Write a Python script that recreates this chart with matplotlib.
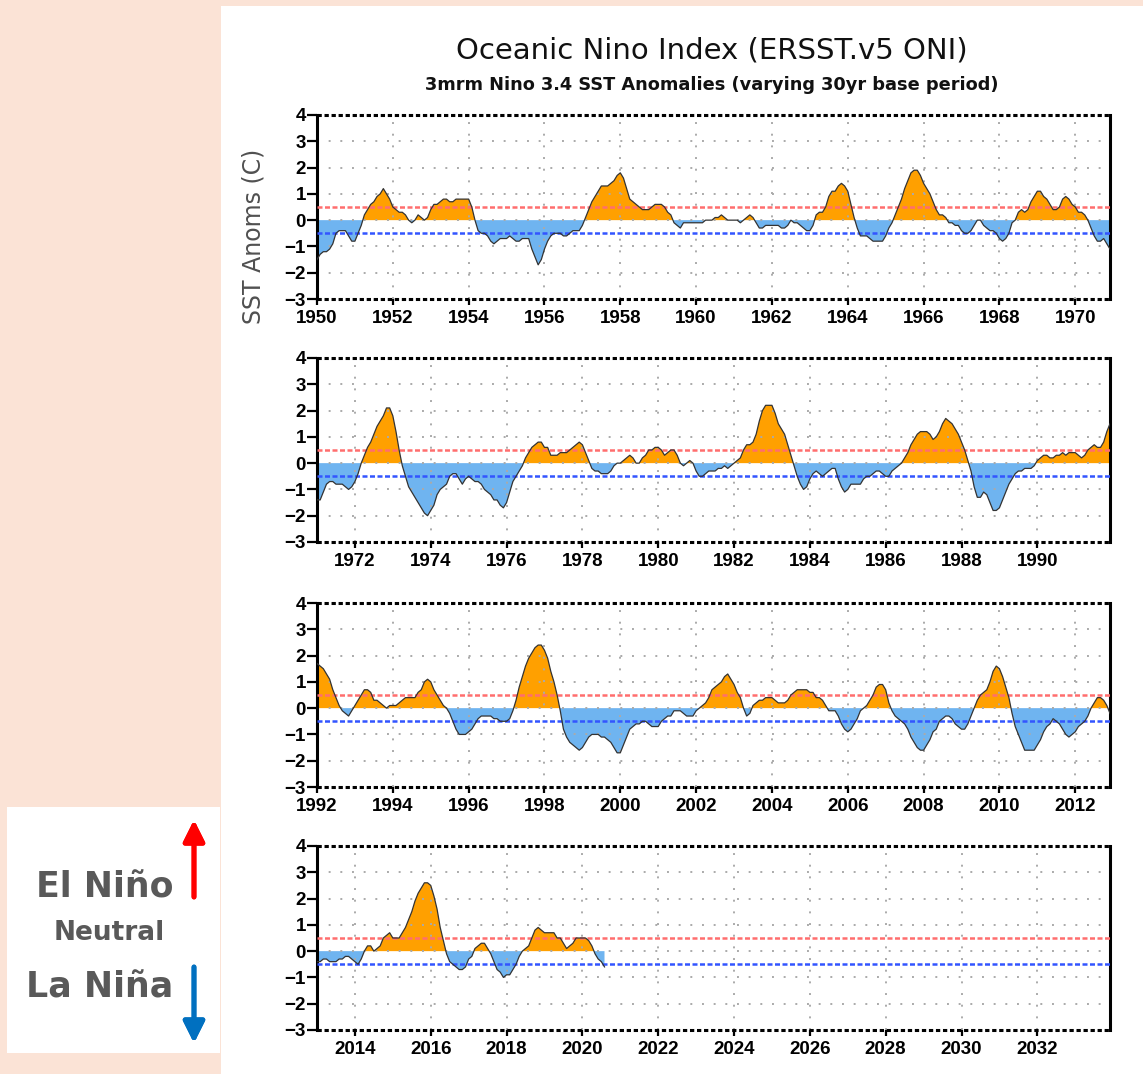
"""Oceanic Nino Index (ERSST.v5 ONI) panel chart, four 21-year strips."""
import numpy as np
import matplotlib
matplotlib.use("Agg")
import matplotlib.pyplot as plt
from matplotlib.patches import Rectangle

# 3-month running mean Nino 3.4 anomalies, monthly from DJF of the first year
oni_1950_1970 = [
    -1.5, -1.3, -1.2, -1.2, -1.1, -0.9, -0.5, -0.4, -0.4, -0.4, -0.6, -0.8,
    -0.8, -0.5, -0.2, 0.2, 0.4, 0.6, 0.7, 0.9, 1.0, 1.2, 1.0, 0.8,
    0.5, 0.4, 0.3, 0.3, 0.2, 0.0, -0.1, 0.0, 0.2, 0.1, 0.0, 0.1,
    0.4, 0.6, 0.6, 0.7, 0.8, 0.8, 0.7, 0.7, 0.8, 0.8, 0.8, 0.8,
    0.8, 0.5, 0.0, -0.4, -0.5, -0.5, -0.6, -0.8, -0.9, -0.8, -0.7, -0.7,
    -0.7, -0.6, -0.7, -0.8, -0.8, -0.7, -0.7, -0.7, -1.1, -1.4, -1.7, -1.5,
    -1.1, -0.8, -0.6, -0.5, -0.5, -0.5, -0.6, -0.6, -0.5, -0.4, -0.4, -0.4,
    -0.2, 0.1, 0.4, 0.7, 0.9, 1.1, 1.3, 1.3, 1.3, 1.4, 1.5, 1.7,
    1.8, 1.6, 1.2, 0.8, 0.7, 0.6, 0.5, 0.4, 0.4, 0.4, 0.5, 0.6,
    0.6, 0.6, 0.5, 0.3, 0.2, -0.1, -0.2, -0.3, -0.1, -0.1, -0.1, -0.1,
    -0.1, -0.1, -0.1, 0.0, 0.0, 0.0, 0.1, 0.1, 0.2, 0.1, 0.0, 0.0,
    0.0, 0.0, -0.1, 0.0, 0.1, 0.2, 0.1, -0.1, -0.3, -0.3, -0.2, -0.2,
    -0.2, -0.2, -0.2, -0.3, -0.3, -0.2, 0.0, -0.1, -0.1, -0.2, -0.3, -0.4,
    -0.4, -0.2, 0.2, 0.3, 0.3, 0.5, 0.9, 1.1, 1.1, 1.3, 1.4, 1.3,
    1.1, 0.6, 0.1, -0.3, -0.6, -0.6, -0.6, -0.7, -0.8, -0.8, -0.8, -0.8,
    -0.6, -0.3, -0.1, 0.2, 0.5, 0.8, 1.2, 1.5, 1.8, 1.9, 1.9, 1.7,
    1.4, 1.2, 1.0, 0.7, 0.4, 0.2, 0.2, 0.1, -0.1, -0.1, -0.2, -0.2,
    -0.4, -0.5, -0.5, -0.4, -0.2, 0.0, 0.0, -0.2, -0.3, -0.4, -0.4, -0.5,
    -0.7, -0.8, -0.7, -0.5, -0.1, 0.0, 0.3, 0.4, 0.3, 0.4, 0.7, 0.9,
    1.1, 1.1, 0.9, 0.8, 0.6, 0.4, 0.4, 0.5, 0.8, 0.9, 0.8, 0.6,
    0.5, 0.3, 0.3, 0.2, 0.0, -0.3, -0.6, -0.8, -0.8, -0.7, -0.9, -1.1,
]
oni_1971_1991 = [
    -1.4, -1.4, -1.1, -0.8, -0.7, -0.7, -0.8, -0.8, -0.8, -0.9, -1.0, -0.9,
    -0.7, -0.4, 0.0, 0.3, 0.6, 0.8, 1.1, 1.4, 1.6, 1.8, 2.1, 2.1,
    1.8, 1.2, 0.5, -0.1, -0.5, -0.9, -1.1, -1.3, -1.5, -1.7, -1.9, -2.0,
    -1.8, -1.6, -1.2, -1.0, -0.9, -0.8, -0.5, -0.4, -0.4, -0.6, -0.8, -0.6,
    -0.5, -0.6, -0.7, -0.7, -0.8, -1.0, -1.1, -1.2, -1.4, -1.4, -1.6, -1.7,
    -1.5, -1.1, -0.7, -0.5, -0.3, -0.1, 0.2, 0.4, 0.6, 0.7, 0.8, 0.8,
    0.6, 0.6, 0.3, 0.3, 0.3, 0.4, 0.4, 0.4, 0.5, 0.6, 0.7, 0.8,
    0.7, 0.4, 0.1, -0.2, -0.3, -0.3, -0.4, -0.4, -0.4, -0.3, -0.1, 0.0,
    0.0, 0.1, 0.2, 0.3, 0.2, 0.0, 0.0, 0.2, 0.3, 0.5, 0.5, 0.6,
    0.6, 0.5, 0.3, 0.4, 0.5, 0.5, 0.3, 0.0, -0.1, 0.0, 0.1, 0.0,
    -0.3, -0.5, -0.5, -0.4, -0.3, -0.3, -0.3, -0.2, -0.2, -0.1, -0.2, -0.1,
    0.0, 0.1, 0.2, 0.5, 0.7, 0.7, 0.8, 1.1, 1.6, 2.0, 2.2, 2.2,
    2.2, 1.9, 1.5, 1.3, 1.1, 0.7, 0.3, -0.1, -0.5, -0.8, -1.0, -0.9,
    -0.6, -0.4, -0.3, -0.4, -0.5, -0.4, -0.3, -0.2, -0.2, -0.6, -0.9, -1.1,
    -1.0, -0.8, -0.8, -0.8, -0.8, -0.6, -0.5, -0.5, -0.4, -0.3, -0.3, -0.4,
    -0.5, -0.5, -0.3, -0.2, -0.1, 0.0, 0.2, 0.4, 0.7, 0.9, 1.1, 1.2,
    1.2, 1.2, 1.1, 0.9, 1.0, 1.2, 1.5, 1.7, 1.6, 1.5, 1.3, 1.1,
    0.8, 0.5, 0.1, -0.3, -0.9, -1.3, -1.3, -1.1, -1.2, -1.5, -1.8, -1.8,
    -1.7, -1.4, -1.1, -0.8, -0.6, -0.4, -0.3, -0.3, -0.2, -0.2, -0.2, -0.1,
    0.1, 0.2, 0.3, 0.3, 0.2, 0.2, 0.3, 0.3, 0.4, 0.3, 0.4, 0.4,
    0.4, 0.3, 0.2, 0.3, 0.5, 0.6, 0.7, 0.6, 0.6, 0.8, 1.2, 1.5,
]
oni_1992_2012 = [
    1.7, 1.6, 1.5, 1.3, 1.1, 0.7, 0.4, 0.1, -0.1, -0.2, -0.3, -0.1,
    0.1, 0.3, 0.5, 0.7, 0.7, 0.6, 0.3, 0.3, 0.2, 0.1, 0.0, 0.1,
    0.1, 0.1, 0.2, 0.3, 0.4, 0.4, 0.4, 0.4, 0.6, 0.7, 1.0, 1.1,
    1.0, 0.7, 0.5, 0.3, 0.1, 0.0, -0.2, -0.5, -0.8, -1.0, -1.0, -1.0,
    -0.9, -0.8, -0.6, -0.4, -0.3, -0.3, -0.3, -0.3, -0.4, -0.4, -0.5, -0.5,
    -0.5, -0.4, -0.1, 0.3, 0.8, 1.2, 1.6, 1.9, 2.1, 2.3, 2.4, 2.4,
    2.2, 1.9, 1.4, 1.0, 0.5, -0.1, -0.8, -1.1, -1.3, -1.4, -1.5, -1.6,
    -1.5, -1.3, -1.1, -1.0, -1.0, -1.0, -1.1, -1.1, -1.2, -1.3, -1.5, -1.7,
    -1.7, -1.4, -1.1, -0.8, -0.7, -0.6, -0.6, -0.5, -0.5, -0.6, -0.7, -0.7,
    -0.7, -0.5, -0.4, -0.3, -0.3, -0.1, -0.1, -0.1, -0.2, -0.3, -0.3, -0.3,
    -0.1, 0.0, 0.1, 0.2, 0.4, 0.7, 0.8, 0.9, 1.0, 1.2, 1.3, 1.1,
    0.9, 0.6, 0.4, 0.0, -0.3, -0.2, 0.1, 0.2, 0.3, 0.3, 0.4, 0.4,
    0.4, 0.3, 0.2, 0.2, 0.2, 0.3, 0.5, 0.6, 0.7, 0.7, 0.7, 0.7,
    0.6, 0.6, 0.4, 0.4, 0.3, 0.1, -0.1, -0.1, -0.1, -0.3, -0.6, -0.8,
    -0.9, -0.8, -0.6, -0.4, -0.1, 0.0, 0.1, 0.3, 0.5, 0.8, 0.9, 0.9,
    0.7, 0.2, -0.1, -0.3, -0.4, -0.5, -0.6, -0.8, -1.1, -1.3, -1.5, -1.6,
    -1.6, -1.4, -1.2, -0.9, -0.8, -0.5, -0.4, -0.3, -0.3, -0.4, -0.6, -0.7,
    -0.8, -0.8, -0.6, -0.3, 0.0, 0.3, 0.5, 0.6, 0.7, 1.0, 1.4, 1.6,
    1.5, 1.2, 0.8, 0.4, -0.2, -0.7, -1.0, -1.3, -1.6, -1.6, -1.6, -1.6,
    -1.4, -1.2, -0.9, -0.7, -0.6, -0.4, -0.5, -0.6, -0.8, -1.0, -1.1, -1.0,
    -0.9, -0.7, -0.6, -0.5, -0.3, 0.0, 0.2, 0.4, 0.4, 0.3, 0.1, -0.2,
]
oni_2013_2020 = [
    -0.4, -0.4, -0.3, -0.3, -0.4, -0.4, -0.4, -0.3, -0.3, -0.2, -0.2, -0.3,
    -0.4, -0.5, -0.3, 0.0, 0.2, 0.2, 0.0, 0.1, 0.2, 0.5, 0.6, 0.7,
    0.5, 0.5, 0.5, 0.7, 0.9, 1.2, 1.5, 1.9, 2.2, 2.4, 2.6, 2.6,
    2.5, 2.1, 1.6, 0.9, 0.4, -0.1, -0.4, -0.5, -0.6, -0.7, -0.7, -0.6,
    -0.3, -0.2, 0.1, 0.2, 0.3, 0.3, 0.1, -0.1, -0.4, -0.7, -0.8, -1.0,
    -0.9, -0.9, -0.7, -0.5, -0.2, 0.0, 0.1, 0.2, 0.5, 0.8, 0.9, 0.8,
    0.7, 0.7, 0.7, 0.7, 0.5, 0.5, 0.3, 0.1, 0.2, 0.3, 0.5, 0.5,
    0.5, 0.5, 0.4, 0.2, -0.1, -0.3, -0.4, -0.6,
]
first_year = 1950
panel_starts = [1950, 1971, 1992, 2013]
panel_years = 21
panel_ticks = [
    list(range(1950, 1971, 2)),
    list(range(1972, 1991, 2)),
    list(range(1992, 2013, 2)),
    list(range(2014, 2033, 2)),
]
y_ticks = [-3, -2, -1, 0, 1, 2, 3, 4]
el_nino_threshold = 0.5
la_nina_threshold = -0.5

PEACH = "#fbe3d6"
ORANGE = "#ffa000"
LIGHT_BLUE = "#6fb4f0"
TEXT_GRAY = "#595959"
TICK_FONT = ["Liberation Sans Narrow", "Liberation Sans", "DejaVu Sans"]

W, H = 1143, 1074


def px_rect(left, top, width, height):
    """Pixel box (top-left origin) -> figure fraction rect."""
    return [left / W, 1 - (top + height) / H, width / W, height / H]


oni = np.array(oni_1950_1970 + oni_1971_1991 + oni_1992_2012 + oni_2013_2020)
t = first_year + np.arange(len(oni)) / 12.0

fig = plt.figure(figsize=(W / 100, H / 100), dpi=100, facecolor=PEACH)
fig.add_artist(Rectangle((221 / W, 0), 1 - 221 / W, 1 - 6 / H, transform=fig.transFigure,
                         facecolor="white", edgecolor="none", zorder=0))
fig.add_artist(Rectangle((7 / W, 1 - 1053 / H), 213 / W, 246 / H, transform=fig.transFigure,
                         facecolor="white", edgecolor="none", zorder=0))

panel_tops = [115, 358, 603, 846]
for i, (start, ticks) in enumerate(zip(panel_starts, panel_ticks)):
    ax = fig.add_axes(px_rect(317, panel_tops[i], 793, 184))
    ax.set_facecolor("white")
    ax.fill_between(t, 0, oni, where=oni >= 0, interpolate=True, color=ORANGE, lw=0, zorder=1)
    ax.fill_between(t, 0, oni, where=oni <= 0, interpolate=True, color=LIGHT_BLUE, lw=0, zorder=1)
    for y in y_ticks[1:-1]:
        ax.axhline(y, color="#aaaaaa", lw=1.4, ls=(0, (1, 5)), zorder=2)
    for x in ticks:
        ax.axvline(x, color="#aaaaaa", lw=1.4, ls=(0, (1, 5)), zorder=2)
    ax.axhline(el_nino_threshold, color="#ff6e6e", lw=1.8, ls=(0, (2, 1)), zorder=3)
    ax.axhline(la_nina_threshold, color="#3355ff", lw=1.8, ls=(0, (2, 1)), zorder=3)
    ax.plot(t, oni, color="#333333", lw=0.9, zorder=4)

    # each strip runs through November of its last year
    ax.set_xlim(start, start + panel_years - 1 / 12)
    ax.set_ylim(y_ticks[0], y_ticks[-1])
    ax.set_xticks(ticks)
    ax.set_yticks(y_ticks)
    ax.tick_params(axis="y", length=7, width=1.6, pad=1, direction="out")
    ax.tick_params(axis="x", length=4, width=1.6, pad=4, direction="out")
    for lab in ax.get_xticklabels() + ax.get_yticklabels():
        lab.set_fontfamily(TICK_FONT)
        lab.set_fontweight("bold")
        lab.set_fontsize(13.5)
    for side in ["left", "right"]:
        ax.spines[side].set_linewidth(2.2)
    for side in ["top", "bottom"]:
        ax.spines[side].set_linewidth(2.2)
        ax.spines[side].set_capstyle("butt")
        ax.spines[side].set_linestyle((0, (1.4, 0.9)))

fig.text(712 / W, 1 - 50 / H, "Oceanic Nino Index (ERSST.v5 ONI)", ha="center", va="center",
         fontsize=21, color="#111111")
fig.text(712 / W, 1 - 85 / H, "3mrm Nino 3.4 SST Anomalies (varying 30yr base period)",
         ha="center", va="center", fontsize=12.8, fontweight="bold", color="#111111")
fig.text(253 / W, 1 - 236 / H, "SST Anoms (C)", rotation=90, ha="center", va="center",
         fontsize=17, color="#505050")

# side legend
fig.text(105 / W, 1 - 897 / H, "El Niño", ha="center", va="baseline", fontsize=25,
         fontweight="bold", color=TEXT_GRAY)
fig.text(109 / W, 1 - 940 / H, "Neutral", ha="center", va="baseline", fontsize=19,
         fontweight="bold", color=TEXT_GRAY)
fig.text(100 / W, 1 - 998 / H, "La Niña", ha="center", va="baseline", fontsize=25,
         fontweight="bold", color=TEXT_GRAY)
fig.add_artist(plt.annotate("", xy=(194, H - 820), xytext=(194, H - 897), xycoords="figure pixels",
                            arrowprops=dict(arrowstyle="-|>", color="#ff0000", lw=3.5,
                                            mutation_scale=32, shrinkA=0, shrinkB=0)))
fig.add_artist(plt.annotate("", xy=(194, H - 1043), xytext=(194, H - 967), xycoords="figure pixels",
                            arrowprops=dict(arrowstyle="-|>", color="#0070c0", lw=3.5,
                                            mutation_scale=32, shrinkA=0, shrinkB=0)))

fig.savefig("out.png", dpi=100, facecolor=PEACH)
